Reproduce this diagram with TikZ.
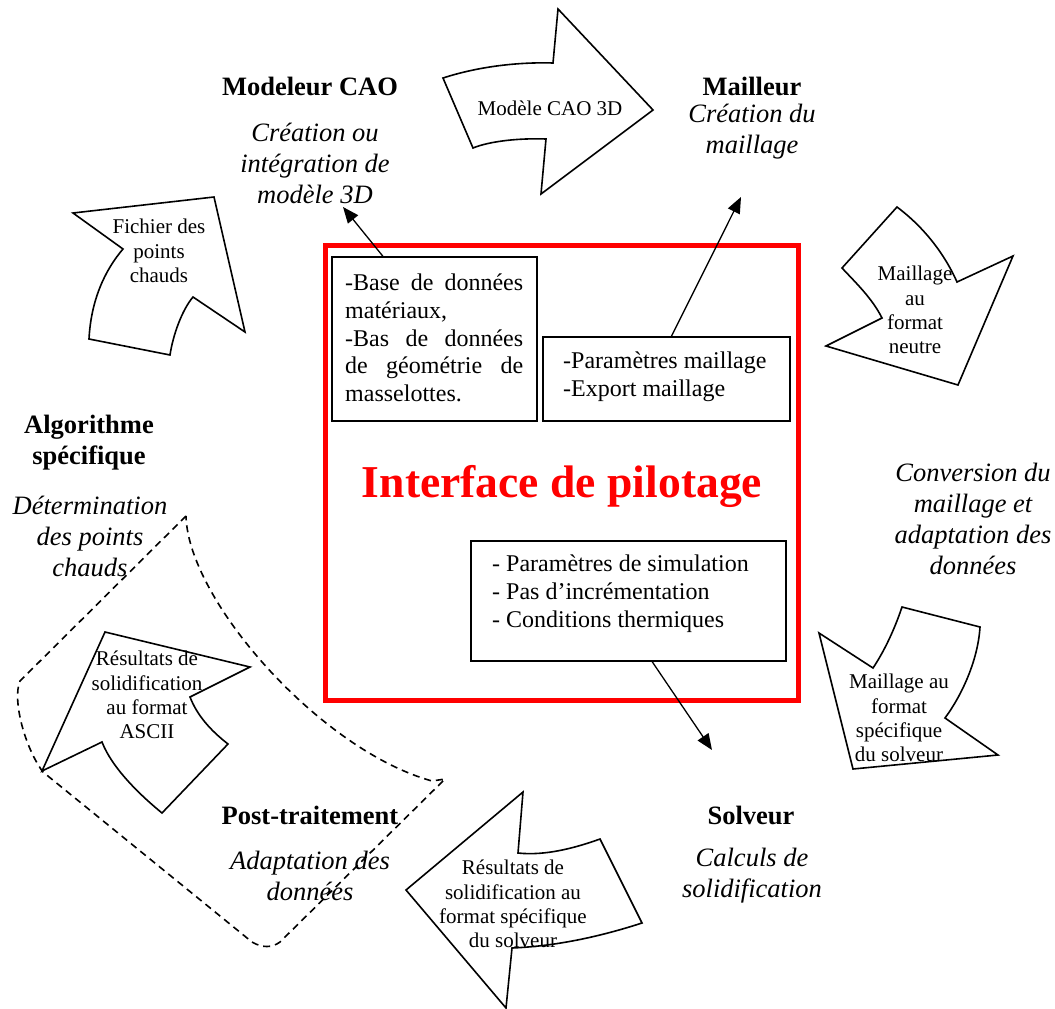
\documentclass[tikz,border=0pt]{standalone}
\usepackage{fontspec}
\setmainfont{Liberation Serif}
\usetikzlibrary{arrows.meta,calc}
\begin{document}
\begin{tikzpicture}[x=1pt,y=-1pt,
  lbl/.style={font=\fontsize{26.5}{31}\selectfont\bfseries, align=center, inner sep=0pt},
  desc/.style={font=\fontsize{26.5}{31}\selectfont\itshape, align=center, inner sep=0pt},
  boxtxt/.style={font=\fontsize{24}{27.8}\selectfont, align=left, inner sep=0pt, anchor=west},
  arrtxt/.style={font=\fontsize{21}{24.2}\selectfont, align=center, inner sep=0pt},
  bigarrow/.style={draw, line width=1.6pt, line join=miter, fill=white},
  infobox/.style={draw, line width=1.6pt, inner sep=0pt},
  conn/.style={-{Triangle[length=16pt,width=13pt]}, line width=1.3pt},
  region/.style={draw, line width=1.6pt, dash pattern=on 7pt off 5pt}]
\useasboundingbox (0,0) rectangle (1055,1009);

% dashed region
\draw[region] (186,516) -- (20,681) .. controls (12,700) and (25,748) .. (43,772)
  -- (252,942) .. controls (262,948) and (272,948) .. (280,942) -- (445,779)
  -- (432,781) .. controls (320,750) and (188,600) .. (186,516) -- cycle;

% big curved arrows
\draw[bigarrow] (443,78) .. controls (480,66) and (520,62) .. (553,63) -- (558,9)
  -- (653,110) -- (541,194) -- (546,139) .. controls (520,138) and (490,141) .. (473,148) -- cycle;
\draw[bigarrow] (73,213) -- (214,197) -- (245,332) -- (193,297)
  .. controls (182,310) and (173,335) .. (170,355) -- (89,339)
  .. controls (91,300) and (105,270) .. (123,249) -- cycle;
\draw[bigarrow] (897,207) -- (842,268) .. controls (855,282) and (872,298) .. (882,318)
  -- (826,346) -- (958,385) -- (1013,256) -- (957,282)
  .. controls (945,255) and (925,228) .. (897,207) -- cycle;
\draw[bigarrow] (902,607) -- (980,627) .. controls (978,660) and (962,695) .. (945,718)
  -- (998,755) -- (853,769) -- (819,633) -- (873,668)
  .. controls (885,650) and (895,628) .. (902,607) -- cycle;
\draw[bigarrow] (523,792) -- (518,853) .. controls (545,856) and (575,848) .. (600,839)
  -- (642,923) .. controls (605,935) and (560,946) .. (512,948) -- (506,1008) -- (406,890) -- cycle;
\draw[bigarrow] (105,632) -- (250,667) -- (190,697) .. controls (197,715) and (210,730) .. (228,744)
  -- (162,813) .. controls (140,795) and (112,768) .. (102,742) -- (42,771) -- cycle;

% arrow texts
\node[arrtxt] (a1) at (550,108) {Modèle CAO 3D};
\node[arrtxt] (a2) at (159,251) {Fichier des\\points\\chauds};
\node[arrtxt] (a3) at (915,310) {Maillage\\au\\format\\neutre};
\node[arrtxt] (a4) at (899,718) {Maillage au\\format\\spécifique\\du solveur};
\node[arrtxt] (a5) at (513,904) {Résultats de\\solidification au\\format spécifique\\du solveur};
\node[arrtxt] (a6) at (147,695) {Résultats de\\solidification\\au format\\ASCII};

% main labels
\node[lbl] (cao) at (310,86) {Modeleur CAO};
\node[desc] (caod) at (315,163) {Création ou\\intégration de\\modèle 3D};
\node[lbl] (mail) at (752,86) {Mailleur};
\node[desc] (maild) at (752,132) {Création du\\maillage};
\node[lbl] (algo) at (89,443) {Algorithme\\spécifique};
\node[desc] (algod) at (90,536) {Détermination\\des points\\chauds};
\node[desc] (conv) at (973,519) {Conversion du\\maillage et\\adaptation des\\données};
\node[lbl] (solv) at (751,815) {Solveur};
\node[desc] (solvd) at (752,876) {Calculs de\\solidification};
\node[lbl] (post) at (310,815) {Post-traitement};
\node[desc] (postd) at (310,876) {Adaptation des\\données};

% red frame
\node[draw=red, line width=5pt, minimum width=473pt, minimum height=455pt, inner sep=0pt] (frame) at (561.5,472.5) {};
\node[font=\fontsize{45.6}{50}\selectfont\bfseries, text=red, inner sep=0pt] (ip) at (562,486) {Interface de pilotage};

% inner boxes
\node[infobox, minimum width=205pt, minimum height=164pt] (b1) at (434.5,339) {};
\node[infobox, minimum width=247pt, minimum height=84pt] (b2) at (666.5,379) {};
\node[infobox, minimum width=315pt, minimum height=120pt] (b3) at (628.5,601) {};

\node[boxtxt] (t1) at (345,338) {\makebox[178pt][s]{-Base de données}\\matériaux,\\\makebox[178pt][s]{-Bas de données}\\\makebox[178pt][s]{de géométrie de}\\masselottes.};
\node[boxtxt] (t2) at (563,377) {-Paramètres maillage\\-Export maillage};
\node[boxtxt] (t3) at (492,594) {- Paramètres de simulation\\- Pas d’incrémentation\\- Conditions thermiques};

% connectors
\coordinate (e1) at (343,207);
\coordinate (e2) at (741,197);
\coordinate (e3) at (712,750);
\draw[conn] ($(b1.north west)!0.25!(b1.north east)$) -- (e1);
\draw[conn] ($(b2.north west)!0.52!(b2.north east)$) -- (e2);
\draw[conn] ($(b3.south west)!0.575!(b3.south east)$) -- (e3);
\end{tikzpicture}
\end{document}
